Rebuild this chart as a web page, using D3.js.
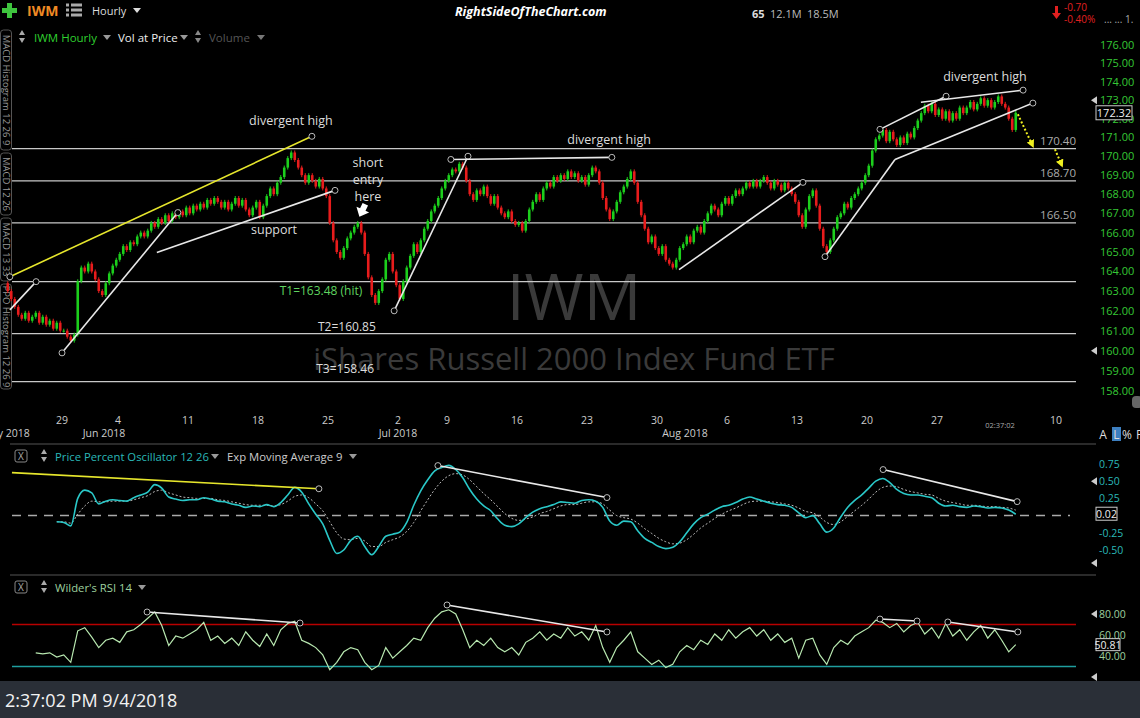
<!DOCTYPE html>
<html>
<head>
<meta charset="utf-8">
<script src="https://cdn.jsdelivr.net/npm/d3@7"></script>
<style>
  body { margin: 0; background: #000; overflow: hidden; }
  svg { display: block; font-family: "Open Sans", "Noto Sans", sans-serif; }
</style>
</head>
<body>
<svg id="chart" width="1140" height="718"></svg>
<script>
// ---- data (2-hour bars, 4 per session) ----
const firstOpen = 163.4;
const closes = [
  // May 22 - May 25
  163.0,162.6,162.2,161.8, 161.6,161.9,161.5,161.7, 161.9,161.4,161.7,161.3, 161.5,161.1,161.4,161.0,
  // May 29 - Jun 1
  161.0,160.7,160.5,160.8, 163.5,164.2,164.0,164.4, 164.0,163.6,163.0,162.8, 163.4,163.9,164.3,164.6,
  // Jun 4 - Jun 8
  164.9,165.3,165.1,165.5, 165.4,165.8,166.0,165.8, 166.1,166.5,166.3,166.7, 166.5,166.9,166.6,167.0, 166.8,167.1,166.9,167.3,
  // Jun 11 - Jun 15
  167.0,167.4,167.2,167.5, 167.3,167.7,167.5,167.8, 167.6,167.3,167.6,167.2, 167.5,167.8,167.4,167.7, 167.2,166.9,167.3,167.6,
  // Jun 18 - Jun 22
  166.8,167.4,167.9,168.3, 168.0,168.6,168.9,169.4, 169.9,170.2,169.8,169.4, 169.0,168.6,169.0,168.7, 168.4,168.8,168.3,167.9,
  // Jun 25 - Jun 29
  166.5,165.6,165.0,164.7, 165.2,165.7,166.0,166.3, 166.5,166.0,164.9,163.7, 162.8,162.4,163.0,163.6, 164.6,164.9,164.0,163.3,
  // Jul 2, Jul 3 (half), Jul 5, Jul 6
  162.6,163.5,164.2,164.8, 165.4,165.0, 165.6,166.2,166.6,167.1, 167.4,167.8,168.3,168.7,
  // Jul 9 - Jul 13
  169.0,169.3,169.2,169.6, 169.4,168.7,168.0,167.7, 168.2,168.0,168.4,167.9, 167.5,167.9,167.3,167.0, 166.8,167.1,166.6,166.4,
  // Jul 16 - Jul 20
  166.5,166.1,166.6,167.2, 167.6,168.0,167.7,168.3, 168.6,168.4,168.9,168.7, 169.0,168.8,169.2,168.9, 169.1,168.7,168.9,168.5,
  // Jul 23 - Jul 27
  169.0,169.4,169.2,168.6, 167.8,167.2,166.7,167.1, 167.6,168.1,168.4,168.8, 169.2,168.6,167.6,166.9, 166.2,165.5,165.8,165.2,
  // Jul 30 - Aug 3
  164.9,165.3,164.6,164.4, 164.2,164.6,165.2,165.4, 165.8,165.5,166.1,166.3, 166.0,166.6,167.0,167.4, 167.2,166.9,167.5,167.8,
  // Aug 6 - Aug 10
  167.5,167.9,168.2,168.0, 168.3,168.6,168.4,168.7, 168.4,168.7,168.9,168.6, 168.3,168.7,168.5,168.2, 168.6,168.3,168.0,167.6,
  // Aug 13 - Aug 17
  166.9,166.3,167.2,167.9, 168.2,167.4,166.2,165.3, 165.0,165.6,166.2,166.8, 167.0,167.5,167.3,167.8, 168.0,168.3,168.6,169.0,
  // Aug 20 - Aug 24
  169.5,170.3,170.9,171.1, 171.4,170.8,171.3,170.9, 170.6,171.0,170.7,171.2, 171.0,171.5,171.9,172.3, 172.7,172.4,172.8,172.2,
  // Aug 27 - Aug 31
  172.5,172.0,172.4,171.9, 172.3,172.0,172.6,172.3, 172.6,172.9,172.5,172.8, 173.1,172.7,173.0,172.6, 172.9,173.2,172.8,172.6,
  // Sep 4
  172.0,171.4,172.32
];

// x axis labels (bar index where the session starts)
const dayLabels = ["29","4","11","18","25","2","9","16","23","30","6","13","20","27","10"];
const dayBars   = [16, 32, 52, 72, 92, 112, 126, 146, 166, 186, 206, 226, 246, 266, 300];
const monthLabels = ["May 2018","Jun 2018","Jul 2018","Aug 2018"];
const monthBars   = [0, 28, 112, 194];

const priceTicks = [158,159,160,161,162,163,164,165,166,167,168,169,170,171,172,173,174,175,176];
const levels = [170.40, 168.70, 166.50, 163.48, 160.85, 158.46];
const levelTags = ["170.40", "168.70", "166.50"];
const lastPrice = 172.32;

// Price Percent Oscillator, one reading every 2 bars from bar 14
const ppoStart = 14;
const ppo = [
  -0.09,-0.10,-0.15,0.25,0.37,0.33,0.17,0.21,0.23,0.22,
  0.21,0.26,0.30,0.34,0.45,0.40,0.27,0.24,0.22,0.23,
  0.23,0.26,0.24,0.21,0.20,0.17,0.15,0.12,0.14,0.13,
  0.16,0.13,0.19,0.30,0.41,0.34,0.17,0.02,-0.12,-0.36,
  -0.55,-0.50,-0.36,-0.30,-0.45,-0.57,-0.45,-0.30,-0.27,-0.24,
  -0.10,0.15,0.36,0.52,0.65,0.70,0.73,0.67,0.55,0.38,
  0.24,0.14,0.07,-0.05,-0.14,-0.16,-0.12,-0.03,0.05,0.10,
  0.13,0.16,0.20,0.19,0.18,0.22,0.23,0.21,0.12,-0.08,
  -0.14,-0.08,-0.09,-0.22,-0.33,-0.39,-0.45,-0.48,-0.46,-0.38,
  -0.25,-0.12,-0.03,0.02,0.08,0.13,0.15,0.19,0.24,0.27,
  0.24,0.21,0.18,0.16,0.15,0.12,0.04,-0.03,0.00,-0.12,
  -0.24,-0.18,-0.02,0.12,0.22,0.30,0.40,0.50,0.54,0.48,
  0.38,0.32,0.30,0.30,0.28,0.26,0.18,0.14,0.15,0.13,
  0.12,0.14,0.13,0.11,0.12,0.11,0.08,0.02
];
const ppoSignal = [
  -0.09,-0.09,-0.11,0.02,0.14,0.21,0.20,0.20,0.21,0.21,
  0.21,0.23,0.26,0.29,0.35,0.37,0.33,0.30,0.27,0.26,
  0.25,0.25,0.25,0.23,0.22,0.20,0.18,0.16,0.15,0.15,
  0.15,0.14,0.16,0.21,0.28,0.30,0.26,0.17,0.07,-0.09,
  -0.25,-0.34,-0.35,-0.33,-0.37,-0.45,-0.45,-0.39,-0.35,-0.31,
  -0.23,-0.10,0.07,0.23,0.38,0.50,0.58,0.61,0.59,0.52,
  0.42,0.32,0.23,0.13,0.03,-0.04,-0.07,-0.05,-0.02,0.03,
  0.06,0.10,0.14,0.16,0.16,0.18,0.20,0.20,0.17,0.08,
  0.00,-0.03,-0.05,-0.11,-0.19,-0.26,-0.33,-0.38,-0.41,-0.40,
  -0.35,-0.27,-0.18,-0.11,-0.04,0.02,0.07,0.11,0.16,0.20,
  0.21,0.21,0.20,0.19,0.17,0.15,0.11,0.06,0.04,-0.02,
  -0.10,-0.13,-0.09,-0.01,0.07,0.15,0.24,0.34,0.41,0.43,
  0.42,0.38,0.35,0.33,0.31,0.30,0.25,0.21,0.19,0.17,
  0.15,0.15,0.14,0.13,0.13,0.12,0.11,0.08
];
const ppoTicks = [0.75, 0.50, 0.25, -0.25, -0.50];
const ppoLast = 0.02;

// Wilder's RSI 14, one reading every 2 bars from bar 8
const rsiStart = 8;
const rsi = [
  43,42,43,39,41,34,64,67,58,48,
  55,57,53,63,65,70,76,82,69,50,
  59,57,61,65,72,55,59,52,57,50,
  63,55,49,61,50,65,71,73,55,52,
  48,41,27,34,44,48,46,34,27,31,
  48,38,44,50,57,55,67,76,82,84,
  80,65,48,55,50,57,48,44,48,41,
  53,57,63,55,61,57,67,59,63,55,
  69,48,34,48,55,63,44,38,32,36,
  29,32,44,50,46,55,51,61,55,65,
  57,63,67,59,65,55,61,53,57,38,
  55,57,41,32,48,55,51,59,63,67,
  74,72,67,71,63,69,72,61,67,57,
  71,59,65,55,63,69,57,65,55,44,
  50.81
];
const rsiTicks = [80, 60, 40];
const rsiBands = [70, 30];

// hand-drawn studies, in [bar, value]
const priceLines = [
  {pts: [[1.1, 162.05], [8.6, 163.48]], color: "#e8e8e8", dots: [1]},
  {pts: [[1.1, 163.73], [87.4, 171.06]], color: "#e6e62c", dots: [0, 1]},
  {pts: [[16, 159.89], [49.1, 167.04]], color: "#e8e8e8", dots: [0, 1]},
  {pts: [[43.1, 164.97], [94, 168.2]], color: "#e8e8e8", dots: [1]},
  {pts: [[110.9, 162.0], [132, 170.0]], color: "#e8e8e8", dots: [0, 1]},
  {pts: [[127.1, 169.83], [173.1, 169.94]], color: "#e8e8e8", dots: [0, 1]},
  {pts: [[192.3, 164.09], [227.7, 168.62]], color: "#e8e8e8", dots: [1]},
  {pts: [[234, 164.76], [254, 169.83]], color: "#e8e8e8", dots: [0]},
  {pts: [[249.7, 171.43], [268.6, 173.21]], color: "#e8e8e8", dots: [0, 1]},
  {pts: [[261.4, 172.89], [290.6, 173.54]], color: "#e8e8e8", dots: [1]},
  {pts: [[254, 169.83], [293.4, 172.84]], color: "#e8e8e8", dots: [1]}
];
const ppoLines = [
  {pts: [[1.7, 0.625], [89.4, 0.39]], color: "#e6e62c", dots: [1]},
  {pts: [[123.4, 0.727], [171.7, 0.262]], color: "#e8e8e8", dots: [0, 1]},
  {pts: [[250.6, 0.669], [288.9, 0.203]], color: "#e8e8e8", dots: [0, 1]}
];
const rsiLines = [
  {pts: [[40.3, 81.9], [84, 71.4]], color: "#e8e8e8", dots: [0, 1]},
  {pts: [[126, 88.6], [171.7, 62.9]], color: "#e8e8e8", dots: [0, 1]},
  {pts: [[249.7, 75.2], [260.3, 73.3]], color: "#e8e8e8", dots: [0, 1]},
  {pts: [[269.1, 72.4], [289.1, 62.9]], color: "#e8e8e8", dots: [0, 1]}
];
const notes = [
  {text: "divergent high", at: [81.4, 171.65]},
  {text: "divergent high", at: [172.3, 170.63]},
  {text: "divergent high", at: [279.7, 174.03]},
  {text: "support", at: [76.6, 165.95]},
  {text: "short", at: [103.4, 169.41]},
  {text: "entry", at: [103.4, 168.52]},
  {text: "here", at: [103.4, 167.64]}
];
const targets = [
  {text: "T1=163.48 (hit)", at: [90, 162.81], color: "#5fd35f"},
  {text: "T2=160.85", at: [97.4, 161.0], color: "#dddddd"},
  {text: "T3=158.46", at: [96.9, 158.89], color: "#dddddd"}
];

// ---- layout ----
const svg = d3.select("#chart");
const barW = 3.5;
const x = d3.scaleLinear().domain([0, closes.length]).range([6, 6 + closes.length * barW]);
const yPrice = d3.scaleLog().domain([158, 176]).range([391, 45]);
const yPpo = d3.scaleLinear().domain([-0.5, 0.75]).range([550, 464]);
const yRsi = d3.scaleLinear().domain([40, 80]).range([656, 614]);

svg.append("rect").attr("width", 1140).attr("height", 718).attr("fill", "#000");

// watermark
svg.append("text").attr("x", 574).attr("y", 320).attr("text-anchor", "middle")
  .style("font-size", "64px").attr("fill", "#3a3a3a").text("IWM");
svg.append("text").attr("x", 574).attr("y", 370).attr("text-anchor", "middle")
  .style("font-size", "31px").attr("fill", "#3a3a3a").text("iShares Russell 2000 Index Fund ETF");

// small helper for the tiny drop-down and sort glyphs
function dropDown(px, py, col) {
  svg.append("path").attr("d", `M${px - 4},${py - 2} L${px + 4},${py - 2} L${px},${py + 3} Z`).attr("fill", col);
}
function sortGlyph(px, py, col) {
  svg.append("path").attr("d", `M${px - 3},${py - 2} L${px + 3},${py - 2} L${px},${py - 7} Z M${px - 3},${py + 1} L${px + 3},${py + 1} L${px},${py + 6} Z`).attr("fill", col);
}
function closeBox(px, py) {
  svg.append("rect").attr("x", px).attr("y", py).attr("width", 12).attr("height", 12).attr("rx", 2)
    .attr("fill", "none").attr("stroke", "#888");
  svg.append("text").attr("x", px + 6).attr("y", py + 10).attr("text-anchor", "middle")
    .style("font-size", "10px").attr("fill", "#aaa").text("X");
}

// ---- top bar ----
svg.append("path").attr("d", "M7,3 h5 v5 h5 v5 h-5 v5 h-5 v-5 h-5 v-5 h5 z").attr("fill", "#3ec43e");
svg.append("text").attr("x", 27).attr("y", 16).style("font-size", "14px").style("font-weight", "bold")
  .attr("fill", "#f08a24").text("IWM");
[5, 10, 15].forEach(function (yy) {
  svg.append("rect").attr("x", 66).attr("y", yy - 1.5).attr("width", 3).attr("height", 3).attr("fill", "#aaa");
  svg.append("rect").attr("x", 71).attr("y", yy - 1.5).attr("width", 11).attr("height", 3).attr("fill", "#aaa");
});
svg.append("text").attr("x", 92).attr("y", 15).style("font-size", "11px").attr("fill", "#ddd").text("Hourly");
dropDown(137, 10, "#ddd");
svg.append("text").attr("x", 455).attr("y", 16).style("font-size", "12.5px").style("font-weight", "bold")
  .style("font-style", "italic").attr("fill", "#fff").text("RightSideOfTheChart.com");
svg.append("text").attr("x", 752).attr("y", 18).style("font-size", "11px").style("font-weight", "bold")
  .attr("fill", "#ddd").text("65");
svg.append("text").attr("x", 770).attr("y", 18).style("font-size", "11px").attr("fill", "#bbb").text("12.1M");
svg.append("text").attr("x", 807).attr("y", 18).style("font-size", "11px").attr("fill", "#bbb").text("18.5M");
svg.append("path").attr("d", "M1055,6 h3 v7 h3 l-4.5,6 l-4.5,-6 h3 z").attr("fill", "#e02020");
svg.append("text").attr("x", 1064).attr("y", 11).style("font-size", "10px").attr("fill", "#e02020").text("-0.70");
svg.append("text").attr("x", 1064).attr("y", 23).style("font-size", "10px").attr("fill", "#e02020").text("-0.40%");
svg.append("text").attr("x", 1104).attr("y", 23).style("font-size", "10px").attr("fill", "#aaa").text("...  ...  1.");

// second row
sortGlyph(22, 37, "#aaa");
svg.append("text").attr("x", 34).attr("y", 42).style("font-size", "11.5px").attr("fill", "#2fd02f").text("IWM Hourly");
dropDown(107, 37, "#999");
svg.append("text").attr("x", 118).attr("y", 42).style("font-size", "11.5px").attr("fill", "#eee").text("Vol at Price");
dropDown(184, 37, "#999");
sortGlyph(198, 37, "#888");
svg.append("text").attr("x", 209).attr("y", 42).style("font-size", "11.5px").attr("fill", "#555").text("Volume");
dropDown(261, 37, "#777");

// left-edge study tabs
const tabs = [
  {text: "MACD Histogram 12 26 9", y0: 30, y1: 150},
  {text: "MACD 12 26", y0: 153, y1: 215},
  {text: "MACD 13 33", y0: 218, y1: 281},
  {text: "PPO Histogram 12 26 9", y0: 284, y1: 389}
];
tabs.forEach(function (t) {
  svg.append("rect").attr("x", 0.5).attr("y", t.y0).attr("width", 11).attr("height", t.y1 - t.y0)
    .attr("rx", 3).attr("fill", "#000").attr("stroke", "#555");
  svg.append("text").attr("transform", `translate(2.5, ${(t.y0 + t.y1) / 2}) rotate(90)`)
    .attr("text-anchor", "middle").style("font-size", "9.5px").attr("fill", "#999").text(t.text);
});

// ---- price panel ----
const price = svg.append("g");

levels.forEach(function (lv) {
  price.append("line").attr("x1", 12).attr("x2", 1076)
    .attr("y1", yPrice(lv)).attr("y2", yPrice(lv)).attr("stroke", "#c8c8c8").attr("stroke-width", 1.2);
});
levelTags.forEach(function (t, i) {
  price.append("text").attr("x", 1076).attr("y", yPrice(levels[i]) - 4).attr("text-anchor", "end")
    .style("font-size", "11.5px").attr("fill", "#aaa").text(t);
});

// candles: open is the previous close
const candles = closes.map(function (c, i) {
  return {i: i, open: i === 0 ? firstOpen : closes[i - 1], close: c};
});
price.selectAll("line.wick").data(candles).join("line")
  .attr("class", "wick")
  .attr("x1", d => x(d.i + 0.5)).attr("x2", d => x(d.i + 0.5))
  .attr("y1", d => yPrice(Math.max(d.open, d.close)) - 2)
  .attr("y2", d => yPrice(Math.min(d.open, d.close)) + 2)
  .attr("stroke", d => d.close >= d.open ? "#1ccf1c" : "#e81c1c").attr("stroke-width", 1);
price.selectAll("rect.body").data(candles).join("rect")
  .attr("class", "body")
  .attr("x", d => x(d.i + 0.5) - 1.3).attr("width", 2.6)
  .attr("y", d => yPrice(Math.max(d.open, d.close)))
  .attr("height", d => Math.max(1, Math.abs(yPrice(d.open) - yPrice(d.close))))
  .attr("fill", d => d.close >= d.open ? "#1ccf1c" : "#e81c1c");

function drawStudies(g, list, ys) {
  list.forEach(function (l) {
    g.append("line")
      .attr("x1", x(l.pts[0][0])).attr("y1", ys(l.pts[0][1]))
      .attr("x2", x(l.pts[1][0])).attr("y2", ys(l.pts[1][1]))
      .attr("stroke", l.color).attr("stroke-width", 1.6);
    l.dots.forEach(function (k) {
      g.append("circle").attr("cx", x(l.pts[k][0])).attr("cy", ys(l.pts[k][1])).attr("r", 3)
        .attr("fill", "#000").attr("stroke", "#bbb").attr("stroke-width", 1);
    });
  });
}
drawStudies(price, priceLines, yPrice);

notes.forEach(function (n) {
  price.append("text").attr("x", x(n.at[0])).attr("y", yPrice(n.at[1])).attr("text-anchor", "middle")
    .style("font-size", "12.5px").attr("fill", "#dcdcdc").text(n.text);
});
targets.forEach(function (n) {
  price.append("text").attr("x", x(n.at[0])).attr("y", yPrice(n.at[1])).attr("text-anchor", "middle")
    .style("font-size", "12px").attr("fill", n.color).text(n.text);
});

// short entry arrow
const ax = x(101.7), ay = yPrice(167.1);
price.append("path")
  .attr("d", "M-3,-8 L3,-8 L3,-2 L7,-2 L0,6 L-7,-2 L-3,-2 Z")
  .attr("transform", `translate(${ax},${ay}) rotate(25)`).attr("fill", "#fff");

// yellow dotted projections
const defs = svg.append("defs");
defs.append("marker").attr("id", "yhead").attr("viewBox", "0 0 8 8").attr("refX", 6).attr("refY", 4)
  .attr("markerUnits", "userSpaceOnUse").attr("markerWidth", 8).attr("markerHeight", 8).attr("orient", "auto")
  .append("path").attr("d", "M0,0 L8,4 L0,8 Z").attr("fill", "#f0f020");
[[[289.1, 172.24], [293.4, 170.53]], [[299.7, 170.37], [301.7, 169.5]]].forEach(function (a) {
  price.append("line").attr("x1", x(a[0][0])).attr("y1", yPrice(a[0][1]))
    .attr("x2", x(a[1][0])).attr("y2", yPrice(a[1][1]))
    .attr("stroke", "#f0f020").attr("stroke-width", 2).attr("stroke-dasharray", "2,2")
    .attr("marker-end", "url(#yhead)");
});

// price axis
priceTicks.forEach(function (t) {
  price.append("text").attr("x", 1100).attr("y", yPrice(t) + 4)
    .style("font-size", "11px").attr("fill", "#35c835").text(t.toFixed(2));
});
price.append("rect").attr("x", 1096).attr("y", yPrice(lastPrice) - 7).attr("width", 36).attr("height", 14)
  .attr("fill", "#000").attr("stroke", "#ccc");
price.append("text").attr("x", 1114).attr("y", yPrice(lastPrice) + 4).attr("text-anchor", "middle")
  .style("font-size", "11px").attr("fill", "#eee").text(lastPrice.toFixed(2));

function leftMark(px, py) {
  svg.append("path").attr("d", `M${px},${py} L${px + 6},${py - 4} L${px + 6},${py + 4} Z`).attr("fill", "#ccc");
}
leftMark(1091, yPrice(173));
leftMark(1091, yPrice(160));

// x axis
dayLabels.forEach(function (t, i) {
  svg.append("text").attr("x", x(dayBars[i])).attr("y", 424).attr("text-anchor", "middle")
    .style("font-size", "10.5px").attr("fill", "#ccc").text(t);
});
monthLabels.forEach(function (t, i) {
  svg.append("text").attr("x", x(monthBars[i])).attr("y", 437).attr("text-anchor", "middle")
    .style("font-size", "10.5px").attr("fill", "#ccc").text(t);
});
svg.append("text").attr("x", 1000).attr("y", 428).attr("text-anchor", "middle")
  .style("font-size", "7.5px").attr("fill", "#aaa").text("02:37:02");

// A L % F
svg.append("rect").attr("x", 1112).attr("y", 427).attr("width", 9).attr("height", 14).attr("fill", "#3d7fc0");
[["A", 1103], ["L", 1116.5], ["%", 1127], ["F", 1139]].forEach(function (p) {
  svg.append("text").attr("x", p[1]).attr("y", 439).attr("text-anchor", "middle")
    .style("font-size", "12px").attr("fill", "#ddd").text(p[0]);
});
svg.append("rect").attr("x", 1132).attr("y", 396).attr("width", 10).attr("height", 12).attr("rx", 4).attr("fill", "#666");

svg.append("line").attr("x1", 10).attr("x2", 1096).attr("y1", 444).attr("y2", 444).attr("stroke", "#555");
svg.append("line").attr("x1", 10).attr("x2", 1096).attr("y1", 575).attr("y2", 575).attr("stroke", "#555");

// ---- PPO panel ----
const ppoG = svg.append("g");
closeBox(15, 450);
sortGlyph(44, 456, "#aaa");
ppoG.append("text").attr("x", 55).attr("y", 461).style("font-size", "11.3px").attr("fill", "#2ab8b8")
  .text("Price Percent Oscillator 12 26");
dropDown(215, 456, "#999");
ppoG.append("text").attr("x", 227).attr("y", 461).style("font-size", "11.3px").attr("fill", "#ccc")
  .text("Exp Moving Average 9");
dropDown(353, 456, "#999");

ppoG.append("line").attr("x1", 12).attr("x2", 1070).attr("y1", yPpo(0)).attr("y2", yPpo(0))
  .attr("stroke", "#aaa").attr("stroke-width", 1.5).attr("stroke-dasharray", "9,7");

const ppoX = (d, k) => x(ppoStart + 2 * k + 0.5);
ppoG.append("path").datum(ppoSignal)
  .attr("d", d3.line().x(ppoX).y(d => yPpo(d)).curve(d3.curveMonotoneX))
  .attr("fill", "none").attr("stroke", "#bbb").attr("stroke-width", 1).attr("stroke-dasharray", "2,2");
ppoG.append("path").datum(ppo)
  .attr("d", d3.line().x(ppoX).y(d => yPpo(d)).curve(d3.curveMonotoneX))
  .attr("fill", "none").attr("stroke", "#2ac8c8").attr("stroke-width", 1.6);
drawStudies(ppoG, ppoLines, yPpo);

ppoTicks.forEach(function (t) {
  ppoG.append("text").attr("x", 1099).attr("y", yPpo(t) + 4)
    .style("font-size", "10.5px").attr("fill", "#2ab8b8").text(t.toFixed(2));
});
ppoG.append("rect").attr("x", 1096).attr("y", yPpo(ppoLast) - 7).attr("width", 21).attr("height", 13)
  .attr("fill", "#000").attr("stroke", "#ccc");
ppoG.append("text").attr("x", 1106.5).attr("y", yPpo(ppoLast) + 4).attr("text-anchor", "middle")
  .style("font-size", "10.5px").attr("fill", "#eee").text(ppoLast.toFixed(2));
leftMark(1091, yPpo(0.5));
leftMark(1091, yPpo(-0.69));

// ---- RSI panel ----
const rsiG = svg.append("g");
closeBox(15, 581);
sortGlyph(44, 587, "#aaa");
rsiG.append("text").attr("x", 55).attr("y", 592).style("font-size", "11.3px").attr("fill", "#9ed09e")
  .text("Wilder's RSI 14");
dropDown(142, 587, "#999");

rsiBands.forEach(function (b, i) {
  rsiG.append("line").attr("x1", 12).attr("x2", 1076).attr("y1", yRsi(b)).attr("y2", yRsi(b))
    .attr("stroke", i === 0 ? "#b80000" : "#1f9e9e").attr("stroke-width", 1.5);
});
rsiG.append("path").datum(rsi)
  .attr("d", d3.line().x((d, k) => x(rsiStart + 2 * k + 0.5)).y(d => yRsi(d)))
  .attr("fill", "none").attr("stroke", "#b8e8b0").attr("stroke-width", 1.2);
drawStudies(rsiG, rsiLines, yRsi);

rsiTicks.forEach(function (t) {
  rsiG.append("text").attr("x", 1099).attr("y", yRsi(t) + 4)
    .style("font-size", "10.5px").attr("fill", "#9ed09e").text(t.toFixed(2));
});
const rsiLast = rsi[rsi.length - 1];
rsiG.append("rect").attr("x", 1096).attr("y", yRsi(rsiLast) - 6).attr("width", 24).attr("height", 12)
  .attr("fill", "#000").attr("stroke", "#ccc");
rsiG.append("text").attr("x", 1108).attr("y", yRsi(rsiLast) + 4).attr("text-anchor", "middle")
  .style("font-size", "10.5px").attr("fill", "#eee").text(rsiLast.toFixed(2));
leftMark(1091, yRsi(80));
leftMark(1091, yRsi(20));

// ---- status bar ----
svg.append("rect").attr("x", 0).attr("y", 681).attr("width", 1140).attr("height", 37).attr("fill", "#2a2f37");
svg.append("text").attr("x", 5).attr("y", 707).style("font-size", "18px").attr("fill", "#f2f2f2")
  .text("2:37:02 PM 9/4/2018");
</script>
</body>
</html>
